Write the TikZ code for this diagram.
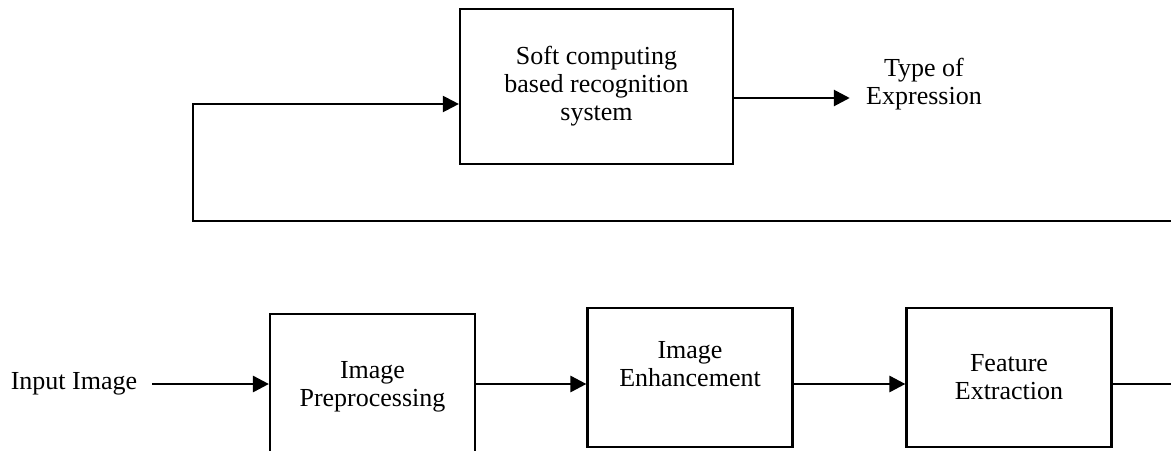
\documentclass[tikz,border=0pt]{standalone}
\usepackage{fontspec}
\setmainfont{Liberation Serif}
\usetikzlibrary{arrows.meta,positioning}

\begin{document}
\begin{tikzpicture}[
  x=0.5pt, y=-0.5pt,
  thick,
  font=\fontsize{13}{14}\selectfont,
  mybox/.style={
    draw,
    rectangle,
    line width=1.1pt,
    align=center,
    minimum width=#1,
    minimum height=69.5pt
    },
  myarrow/.style={
    -{Triangle[length=8pt,width=8pt]},
    line width=1.4pt
    }
]
\useasboundingbox (0,0) rectangle (1171,450);
\clip (0,0) rectangle (1171,450);

\node[mybox=136.5pt, minimum height=77.5pt] (soft) at (596.5,86.5)
  {Soft computing\\based recognition\\system};
\node[align=center] (type) at (924,84) {Type of\\Expression};

\node (input) at (74,384) {Input Image};
\node[mybox=102.5pt, minimum height=73pt] (pre) at (372.5,387) {Image\\Preprocessing};
\node[mybox=102.5pt] (enh) at (690,377.5) {Image\\Enhancement\\\mbox{}};
\node[mybox=102.5pt] (feat) at (1009,377.5) {Feature\\Extraction};

\draw[myarrow, shorten <=3.7pt] (input.east) -- (input.east -| pre.west);
\draw[myarrow] (pre.east |- input.east) -- (enh.west |- input.east);
\draw[myarrow] (enh.east |- input.east) -- (feat.west |- input.east);

% feedback loop
\coordinate (loopR) at (1185,221);
\coordinate (loopL) at (193,221);
\draw[myarrow, line width=1.1pt] (feat.east |- input.east) -| (loopR) -- (loopL)
  |- ([yshift=-8.75pt]soft.west);

\coordinate (softout) at ([yshift=-5.75pt]soft.east);
\draw[myarrow, shorten >=4.5pt] (softout) -- (softout -| type.west);
\end{tikzpicture}
\end{document}
